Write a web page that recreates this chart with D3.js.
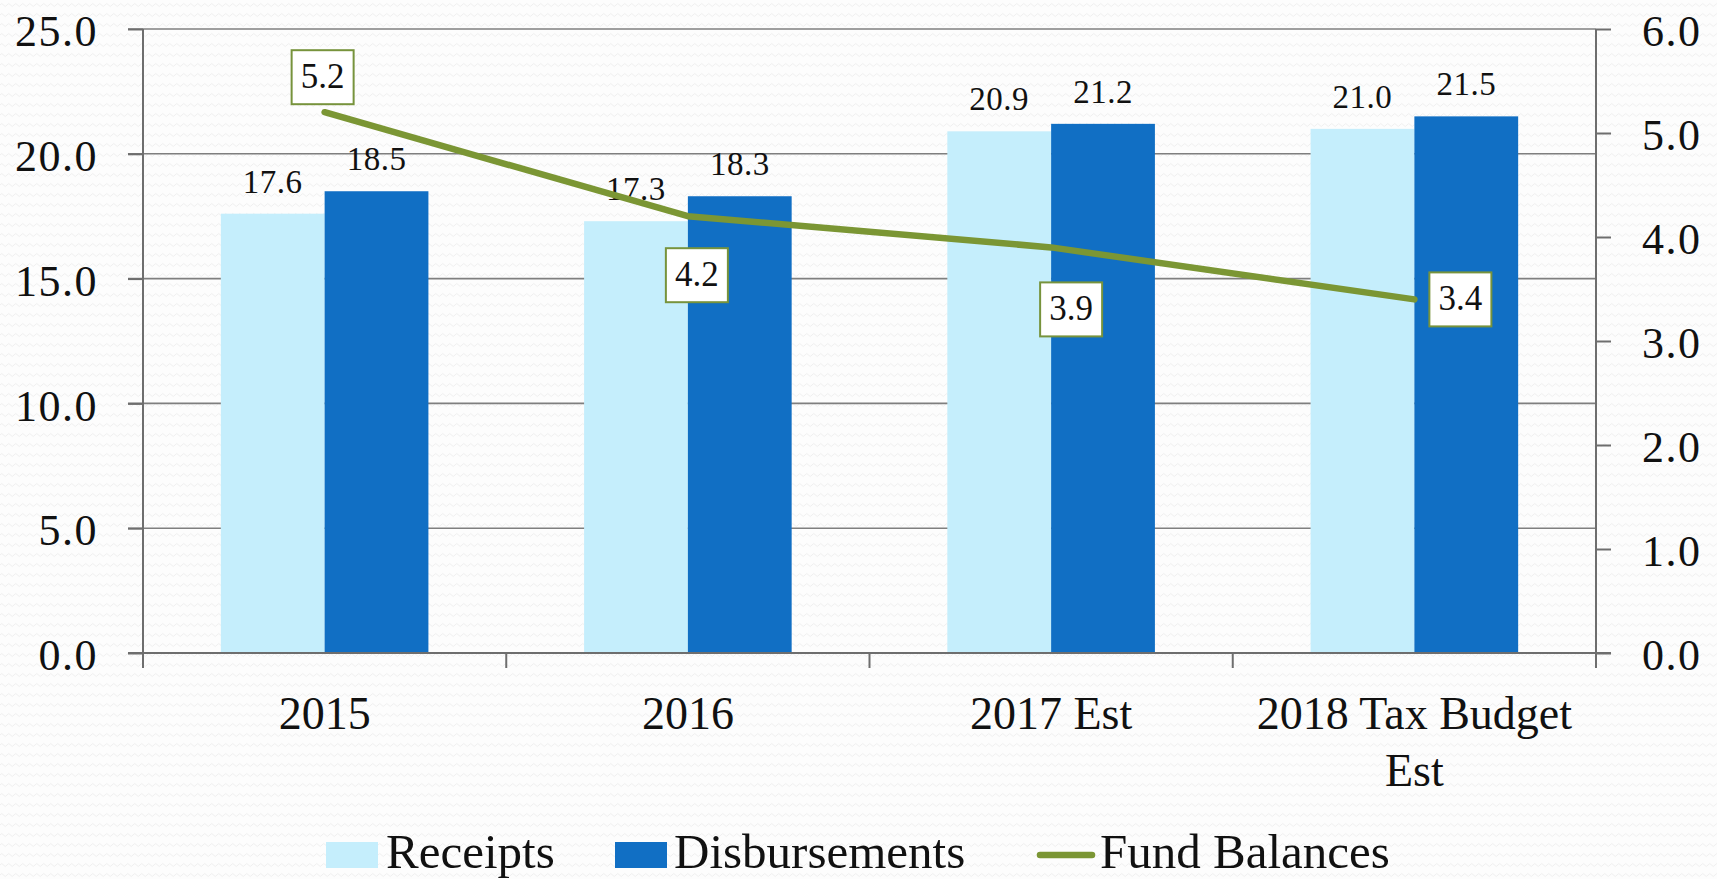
<!DOCTYPE html>
<html>
<head>
  <meta charset="utf-8">
  <title>Receipts, Disbursements and Fund Balances</title>
  <script src="https://cdn.jsdelivr.net/npm/d3@7"></script>
  <style>
    html, body { margin: 0; padding: 0; background: #fdfdfd; }
    svg { display: block; font-family: "Liberation Serif", "DejaVu Serif", serif; }
  </style>
</head>
<body>
  <svg id="chart" width="1717" height="879"></svg>
  <script>
    "use strict";

    // values
    var categories = ["2015", "2016", "2017 Est", "2018 Tax Budget Est"];
    var receipts = [17.6, 17.3, 20.9, 21.0];
    var disbursements = [18.5, 18.3, 21.2, 21.5];
    var fundBalances = [5.2, 4.2, 3.9, 3.4];
    var leftTicks = [0, 5, 10, 15, 20, 25];
    var rightTicks = [0, 1, 2, 3, 4, 5, 6];
    var seriesNames = ["Receipts", "Disbursements", "Fund Balances"];

    var colors = { Receipts: "#c5eefc", Disbursements: "#116fc4", line: "#7b9634", box: "#77933c" };
    // where each fund balance label box sits relative to its point
    var boxOffsets = [[-2, -35], [9, 59], [20, 62], [46, 0]];

    var margin = { top: 29, left: 143, right: 121, bottom: 226 };
    var svg = d3.select("#chart");
    var W = +svg.attr("width"), H = +svg.attr("height");
    var plotBottom = H - margin.bottom;
    var plotRight = W - margin.right;

    // faint wavy backdrop
    var defs = svg.append("defs");
    var pat = defs.append("pattern")
      .attr("id", "wave").attr("width", 7).attr("height", 10)
      .attr("patternUnits", "userSpaceOnUse");
    pat.append("rect").attr("width", 7).attr("height", 10).attr("fill", "#fdfdfd");
    pat.append("path").attr("d", "M0 5 Q1.75 2 3.5 5 T7 5")
      .attr("fill", "none").attr("stroke", "#f0f0f0").attr("stroke-width", 1);
    svg.append("rect").attr("width", W).attr("height", H).attr("fill", "url(#wave)");

    var x = d3.scaleBand().domain(categories).range([margin.left, plotRight]);
    var xSub = d3.scaleBand().domain(["Receipts", "Disbursements"])
      .range([0, x.bandwidth()]).paddingInner(0).paddingOuter(0.75);
    var yLeft = d3.scaleLinear().domain([0, 25]).range([plotBottom, margin.top]);
    var yRight = d3.scaleLinear().domain([0, 6]).range([plotBottom, margin.top]);

    // gridlines
    svg.append("g").selectAll("line").data(leftTicks).enter().append("line")
      .attr("x1", margin.left - 15).attr("x2", plotRight)
      .attr("y1", function(d) { return yLeft(d); })
      .attr("y2", function(d) { return yLeft(d); })
      .attr("stroke", "#7f7f7f").attr("stroke-width", 1.6);

    // bars
    var rows = categories.map(function(c, i) {
      return { cat: c, Receipts: receipts[i], Disbursements: disbursements[i] };
    });
    var groups = svg.append("g").selectAll("g").data(rows).enter().append("g")
      .attr("transform", function(d) { return "translate(" + x(d.cat) + ",0)"; });
    groups.selectAll("rect")
      .data(function(d) { return ["Receipts", "Disbursements"].map(function(k) { return { key: k, v: d[k] }; }); })
      .enter().append("rect")
      .attr("x", function(d) { return xSub(d.key); })
      .attr("width", xSub.bandwidth())
      .attr("y", function(d) { return yLeft(d.v); })
      .attr("height", function(d) { return plotBottom - yLeft(d.v); })
      .attr("fill", function(d) { return colors[d.key]; });
    groups.selectAll("text")
      .data(function(d) { return ["Receipts", "Disbursements"].map(function(k) { return { key: k, v: d[k] }; }); })
      .enter().append("text")
      .attr("x", function(d) { return xSub(d.key) + xSub.bandwidth() / 2; })
      .attr("y", function(d) { return yLeft(d.v) - 21; })
      .attr("text-anchor", "middle")
      .attr("font-size", 33).attr("letter-spacing", 0.5).attr("fill", "#111")
      .text(function(d) { return d.v.toFixed(1); });

    // axes
    var axisColor = "#6e6e6e";
    var leftAxis = svg.append("g").attr("transform", "translate(" + margin.left + ",0)")
      .call(d3.axisLeft(yLeft).tickValues(leftTicks).tickSize(15).tickPadding(30)
        .tickFormat(d3.format(".1f")));
    var rightAxis = svg.append("g").attr("transform", "translate(" + plotRight + ",0)")
      .call(d3.axisRight(yRight).tickValues(rightTicks).tickSize(15).tickPadding(31)
        .tickFormat(d3.format(".1f")));
    var bottomAxis = svg.append("g").attr("transform", "translate(0," + plotBottom + ")")
      .call(d3.axisBottom(x).tickSize(0).tickPadding(0).tickFormat(""));
    [leftAxis, rightAxis, bottomAxis].forEach(function(a) {
      a.select(".domain").remove();
      a.selectAll("line").attr("stroke", axisColor).attr("stroke-width", 2);
      a.selectAll("text").attr("font-family", "Liberation Serif").attr("font-size", 44)
        .attr("letter-spacing", 1.5).attr("fill", "#111").attr("dy", "0.38em");
    });
    // axis lines
    svg.append("line").attr("x1", margin.left).attr("x2", margin.left)
      .attr("y1", margin.top).attr("y2", plotBottom + 15)
      .attr("stroke", axisColor).attr("stroke-width", 2);
    svg.append("line").attr("x1", plotRight).attr("x2", plotRight)
      .attr("y1", margin.top).attr("y2", plotBottom + 15)
      .attr("stroke", axisColor).attr("stroke-width", 2);
    svg.append("line").attr("x1", margin.left - 15).attr("x2", plotRight + 15)
      .attr("y1", plotBottom).attr("y2", plotBottom)
      .attr("stroke", axisColor).attr("stroke-width", 2);
    // category boundary ticks
    var bounds = categories.map(function(c) { return x(c); }).concat([plotRight]);
    svg.append("g").selectAll("line").data(bounds).enter().append("line")
      .attr("x1", function(d) { return d; }).attr("x2", function(d) { return d; })
      .attr("y1", plotBottom).attr("y2", plotBottom + 15)
      .attr("stroke", axisColor).attr("stroke-width", 2);

    // category labels, wrapped to the band width
    var catLabels = svg.append("g").selectAll("text").data(categories).enter().append("text")
      .attr("x", function(d) { return x(d) + x.bandwidth() / 2; })
      .attr("y", plotBottom + 76)
      .attr("text-anchor", "middle").attr("font-size", 46).attr("fill", "#111");
    catLabels.each(function(d) {
      var el = d3.select(this);
      var words = d.split(" "), line = [];
      var ts = el.append("tspan").attr("x", el.attr("x")).attr("dy", 0);
      words.forEach(function(w) {
        line.push(w);
        ts.text(line.join(" "));
        if (ts.node().getComputedTextLength() > x.bandwidth() - 20 && line.length > 1) {
          line.pop();
          ts.text(line.join(" "));
          line = [w];
          ts = el.append("tspan").attr("x", el.attr("x")).attr("dy", 57).text(w);
        }
      });
    });

    // fund balances line
    var pts = categories.map(function(c, i) {
      return { cat: c, v: fundBalances[i], off: boxOffsets[i] };
    });
    var lineGen = d3.line()
      .x(function(d) { return x(d.cat) + x.bandwidth() / 2; })
      .y(function(d) { return yRight(d.v); });
    svg.append("path").datum(pts).attr("d", lineGen)
      .attr("fill", "none").attr("stroke", colors.line).attr("stroke-width", 6.5)
      .attr("stroke-linecap", "round").attr("stroke-linejoin", "round");

    var boxes = svg.append("g").selectAll("g").data(pts).enter().append("g")
      .attr("transform", function(d) {
        var cx = x(d.cat) + x.bandwidth() / 2 + d.off[0];
        var cy = yRight(d.v) + d.off[1];
        return "translate(" + cx + "," + cy + ")";
      });
    boxes.append("rect").attr("x", -31).attr("y", -27).attr("width", 62).attr("height", 54)
      .attr("fill", "#fff").attr("stroke", colors.box).attr("stroke-width", 2);
    boxes.append("text").attr("text-anchor", "middle").attr("y", 11)
      .attr("font-size", 35).attr("fill", "#111")
      .text(function(d) { return d.v.toFixed(1); });

    // legend
    var legend = svg.append("g");
    var legendY = 855;
    legend.append("rect").attr("x", 326).attr("y", legendY - 13).attr("width", 52).attr("height", 26)
      .attr("fill", colors.Receipts);
    legend.append("text").attr("x", 386).attr("y", legendY + 13).attr("font-size", 49)
      .attr("fill", "#111").text(seriesNames[0]);
    legend.append("rect").attr("x", 615).attr("y", legendY - 13).attr("width", 52).attr("height", 26)
      .attr("fill", colors.Disbursements);
    legend.append("text").attr("x", 674).attr("y", legendY + 13).attr("font-size", 49)
      .attr("fill", "#111").text(seriesNames[1]);
    legend.append("line").attr("x1", 1040).attr("x2", 1092).attr("y1", legendY).attr("y2", legendY)
      .attr("stroke", colors.line).attr("stroke-width", 6.5).attr("stroke-linecap", "round");
    legend.append("text").attr("x", 1100).attr("y", legendY + 13).attr("font-size", 49)
      .attr("fill", "#111").text(seriesNames[2]);
  </script>
</body>
</html>
